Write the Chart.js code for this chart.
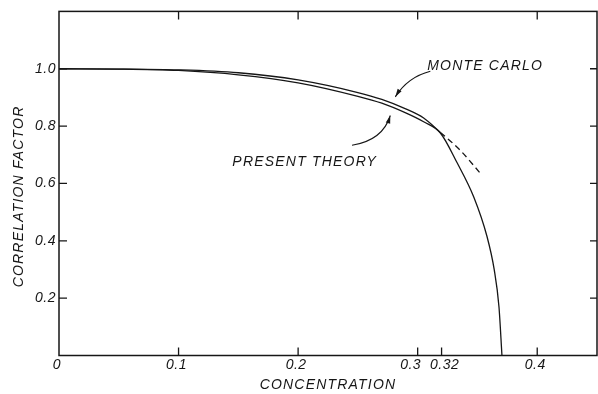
<!DOCTYPE html>
<html>
<head>
<meta charset="utf-8">
<script src="https://cdn.jsdelivr.net/npm/chart.js@4.4.0/dist/chart.umd.min.js"></script>
<style>
  html,body{margin:0;padding:0;background:#fff}
  #wrap{width:598px;height:394px}
</style>
</head>
<body>
<div id="wrap"><canvas id="chart"></canvas></div>
<script>
// axes
const xTicks = [0, 0.1, 0.2, 0.3, 0.32, 0.4];
const xTickLabels = ['0', '0.1', '0.2', '0.3', '0.32', '0.4'];
const yTicks = [0.2, 0.4, 0.6, 0.8, 1.0];
const yTickLabels = ['0.2', '0.4', '0.6', '0.8', '1.0'];
const topTicks = [0.1, 0.2, 0.3, 0.4];
const rightTicks = [0.2, 0.4, 0.6, 0.8, 1.0];

// monte carlo (dashed beyond the critical concentration)
const mcX = [0, 0.05, 0.1, 0.15, 0.2, 0.25, 0.27, 0.29, 0.305, 0.319, 0.336, 0.3525];
const mcY = [1.0, 0.999, 0.996, 0.986, 0.961, 0.917, 0.893, 0.86, 0.828, 0.778, 0.714, 0.635];
const mcDashFrom = 0.319;

// present theory
const thX = [0, 0.05, 0.1, 0.15, 0.2, 0.25, 0.27, 0.29, 0.305, 0.319, 0.333, 0.347, 0.358, 0.364, 0.368, 0.3705];
const thY = [1.0, 0.999, 0.994, 0.979, 0.951, 0.904, 0.88, 0.846, 0.815, 0.776, 0.672, 0.552, 0.415, 0.3, 0.17, 0];

// labels + arrows, in data units
const notes = [
  {text: 'MONTE CARLO', x: 0.308, y: 1.01},
  {text: 'PRESENT THEORY', x: 0.145, y: 0.675}
];
const arrows = [
  {from: [0.3106, 0.991], ctrl: [0.2918, 0.971], to: [0.2813, 0.902]},
  {from: [0.2451, 0.733], ctrl: [0.2709, 0.751], to: [0.2771, 0.837]}
];
// the 0.3 / 0.32 labels are pushed apart in the original
const labelNudge = {'0.3': -5, '0.32': 5};

const ink = '#161616';
const font = '"Liberation Sans", Arial, sans-serif';

const frame = {
  id: 'frame',
  beforeDraw(c) { c.ctx.letterSpacing = '0.5px'; },
  afterDraw(c) {
    const {ctx, chartArea: a, scales: {x, y}} = c;
    const tick = 8;
    ctx.save();
    ctx.strokeStyle = ink;
    ctx.fillStyle = ink;
    ctx.lineWidth = 1.5;
    ctx.strokeRect(a.left, a.top, a.right - a.left, a.bottom - a.top);

    ctx.lineWidth = 1.3;
    ctx.beginPath();
    xTicks.filter(v => v > 0).forEach(v => {
      const p = x.getPixelForValue(v);
      ctx.moveTo(p, a.bottom); ctx.lineTo(p, a.bottom - tick);
    });
    topTicks.forEach(v => {
      const p = x.getPixelForValue(v);
      ctx.moveTo(p, a.top); ctx.lineTo(p, a.top + tick);
    });
    yTicks.forEach(v => {
      const p = y.getPixelForValue(v);
      ctx.moveTo(a.left, p); ctx.lineTo(a.left + tick, p);
    });
    rightTicks.forEach(v => {
      const p = y.getPixelForValue(v);
      ctx.moveTo(a.right, p); ctx.lineTo(a.right - 7, p);
    });
    ctx.stroke();

    // arrows
    ctx.lineWidth = 1.1;
    arrows.forEach(ar => {
      const fx = x.getPixelForValue(ar.from[0]), fy = y.getPixelForValue(ar.from[1]);
      const cx = x.getPixelForValue(ar.ctrl[0]), cy = y.getPixelForValue(ar.ctrl[1]);
      const tx = x.getPixelForValue(ar.to[0]), ty = y.getPixelForValue(ar.to[1]);
      ctx.beginPath();
      ctx.moveTo(fx, fy);
      ctx.quadraticCurveTo(cx, cy, tx, ty);
      ctx.stroke();
      const ang = Math.atan2(ty - cy, tx - cx);
      ctx.beginPath();
      ctx.moveTo(tx, ty);
      ctx.lineTo(tx - 8 * Math.cos(ang) + 2.3 * Math.sin(ang), ty - 8 * Math.sin(ang) - 2.3 * Math.cos(ang));
      ctx.lineTo(tx - 8 * Math.cos(ang) - 2.3 * Math.sin(ang), ty - 8 * Math.sin(ang) + 2.3 * Math.cos(ang));
      ctx.closePath();
      ctx.fill();
    });

    ctx.font = 'italic 14px ' + font;
    ctx.textBaseline = 'middle';

    // x tick labels
    ctx.textAlign = 'center';
    ctx.letterSpacing = '0.5px';
    xTicks.forEach((v, i) => {
      const lab = xTickLabels[i];
      ctx.fillText(lab, x.getPixelForValue(v) - 2 + (labelNudge[lab] || 0), a.bottom + 10);
    });

    // notes
    ctx.letterSpacing = '1.2px';
    ctx.textAlign = 'left';
    notes.forEach(n => ctx.fillText(n.text, x.getPixelForValue(n.x), y.getPixelForValue(n.y)));

    // axis titles
    ctx.textAlign = 'center';
    ctx.fillText('CONCENTRATION', (a.left + a.right) / 2, 385);
    ctx.translate(19, (a.top + a.bottom) / 2 + 13);
    ctx.rotate(-Math.PI / 2);
    ctx.fillText('CORRELATION FACTOR', 0, 0);
    ctx.restore();
  }
};

Chart.defaults.font.family = font;
Chart.defaults.font.size = 14;
Chart.defaults.font.style = 'italic';
Chart.defaults.color = ink;

new Chart(document.getElementById('chart'), {
  type: 'line',
  data: {
    datasets: [
      {
        label: 'Monte Carlo',
        data: mcX.map((v, i) => ({x: v, y: mcY[i]})),
        borderColor: ink, borderWidth: 1.3, pointRadius: 0,
        cubicInterpolationMode: 'monotone',
        segment: {borderDash: s => s.p0.parsed.x >= mcDashFrom - 1e-6 ? [6, 4] : undefined}
      },
      {
        label: 'Present theory',
        data: thX.map((v, i) => ({x: v, y: thY[i]})),
        borderColor: ink, borderWidth: 1.3, pointRadius: 0,
        cubicInterpolationMode: 'monotone'
      }
    ]
  },
  options: {
    responsive: true,
    maintainAspectRatio: false,
    animation: false,
    layout: {padding: {top: 10, right: 1, left: 0, bottom: 0}},
    plugins: {legend: {display: false}, tooltip: {enabled: false}},
    scales: {
      x: {
        type: 'linear', min: 0, max: 0.45,
        afterBuildTicks: s => { s.ticks = xTicks.map(v => ({value: v})); },
        afterFit: s => { s.height = 38.5; },
        grid: {display: false, drawTicks: false},
        border: {display: false},
        ticks: {display: false}
      },
      y: {
        type: 'linear', min: 0, max: 1.2,
        afterBuildTicks: s => { s.ticks = yTicks.map(v => ({value: v})); },
        afterFit: s => { s.width = 59; },
        grid: {display: false, drawTicks: false},
        border: {display: false},
        ticks: {padding: 3, callback: (v, i) => yTickLabels[i]}
      }
    }
  },
  plugins: [frame]
});
</script>
</body>
</html>
